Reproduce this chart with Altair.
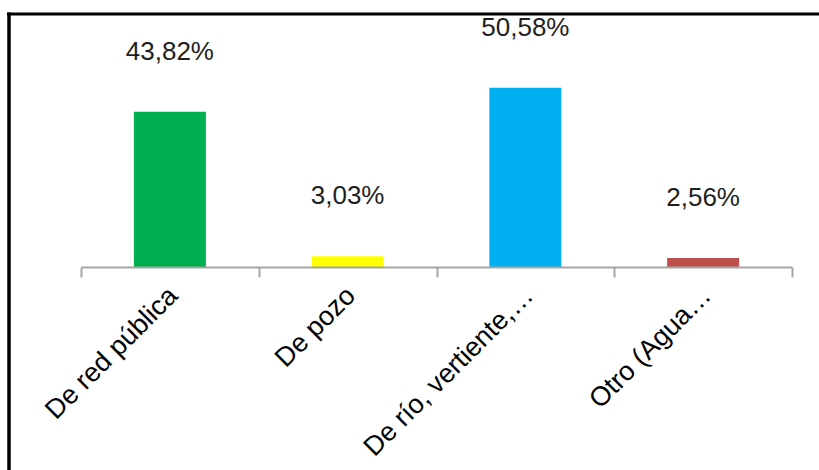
import altair as alt
import pandas as pd

categories = ["De red pública", "De pozo", "De río, vertiente,…", "Otro (Agua…"]
values = [43.82, 3.03, 50.58, 2.56]
labels = ["43,82%", "3,03%", "50,58%", "2,56%"]
colors = ["#00B050", "#FFFF00", "#00B0F0", "#C0504D"]

df = pd.DataFrame({"cat": categories, "val": values, "lab": labels, "col": colors})

W, H = 711, 248

x = alt.X("cat:N", sort=categories, title=None,
          scale=alt.Scale(paddingInner=0, paddingOuter=0),
          axis=alt.Axis(labelAngle=-45, labelFontSize=27, labelFont="Liberation Sans",
                        labelFontWeight=500,
                        labelColor="#000000", tickBand="extent", tickSize=10,
                        tickWidth=2, domainWidth=2, domainColor="#A6A6A6",
                        tickColor="#A6A6A6", labelPadding=5, labelOffset=-6,
                        zindex=1, labelLimit=400))
y = alt.Y("val:Q", scale=alt.Scale(domain=[0, 70]), axis=None)

bars = alt.Chart(df).mark_bar(size=72).encode(
    x=x, y=y, color=alt.Color("col:N", scale=None))

text = alt.Chart(df).mark_text(dy=-60, fontSize=26, font="Liberation Sans",
                               color="#1F1F1F", baseline="middle").encode(
    x=alt.X("cat:N", sort=categories), y="val:Q", text="lab:N")

frame_data = pd.DataFrame({"k": [0]})
top_rule = alt.Chart(frame_data).mark_rule(color="#000000", strokeWidth=3).encode(
    x=alt.value(-74), x2=alt.value(740), y=alt.value(-5))
left_rule = alt.Chart(frame_data).mark_rule(color="#000000", strokeWidth=3.5).encode(
    x=alt.value(-72), y=alt.value(-6.5), y2=alt.value(455))

chart = alt.layer(bars, text, top_rule, left_rule).properties(
    width=W, height=H,
    autosize=alt.AutoSizeParams(type="none"),
    padding={"left": 81, "top": 19, "right": 27, "bottom": 203},
    background="#FFFFFF",
).configure_view(stroke=None)

chart.save("out.html", embed_options={"renderer": "svg", "actions": False})
